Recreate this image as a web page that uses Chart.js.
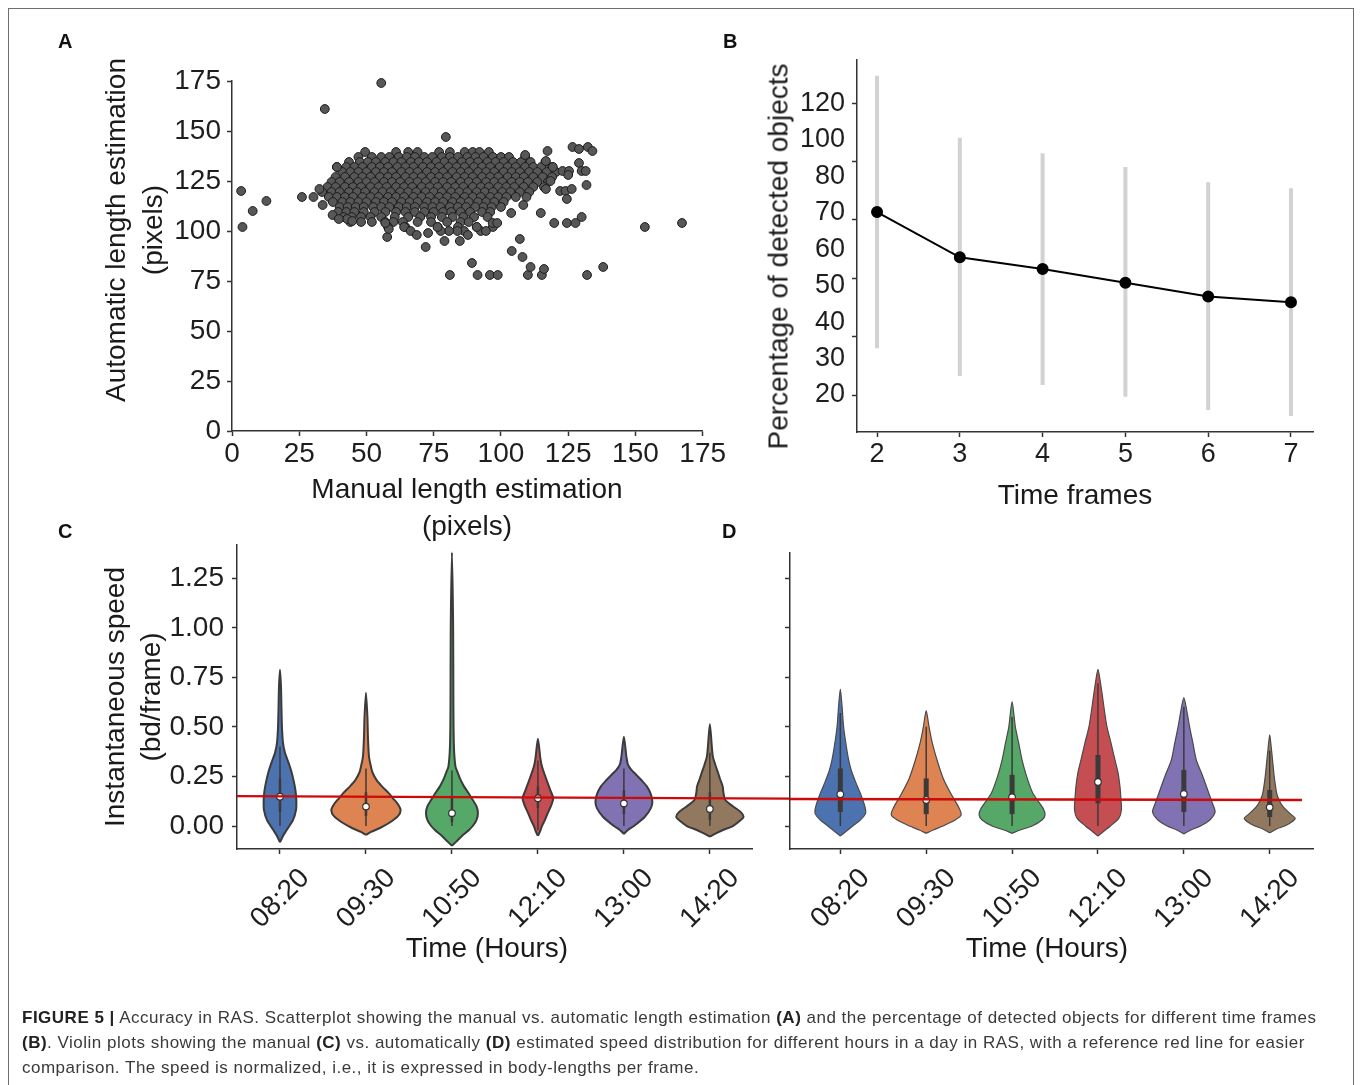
<!DOCTYPE html>
<html>
<head>
<meta charset="utf-8">
<script src="https://cdn.jsdelivr.net/npm/chart.js@4.4.1/dist/chart.umd.min.js"></script>
<style>
  html, body { margin:0; padding:0; background:#fff; }
  body { width:1360px; height:1085px; overflow:hidden; position:relative; font-family:'Liberation Sans', Arial, Helvetica, sans-serif; }
  canvas { position:absolute; left:0; top:0; }
  .frame { position:absolute; left:8px; top:8px; width:1346px; height:1120px; border:1px solid #6e6e6e; box-sizing:border-box; }
  .plab { position:absolute; font-weight:bold; font-size:20px; line-height:20px; color:#111; }
  .ttl { position:absolute; font-size:28px; line-height:37px; color:#1a1a1a; text-align:center; white-space:nowrap; }
  .rot { transform:rotate(-90deg); transform-origin:50% 50%; }
  .cap { position:absolute; font-size:17px; letter-spacing:0.5px; line-height:25px; color:#3a3a3a; white-space:nowrap; }
  .cap b { color:#222; }
</style>
</head>
<body>
<div class="frame"></div>
<canvas id="cA" width="1360" height="1085"></canvas>
<canvas id="cB" width="1360" height="1085"></canvas>
<canvas id="cC" width="1360" height="1085"></canvas>
<canvas id="cD" width="1360" height="1085"></canvas>

<div class="plab" style="left:58px;top:31px;">A</div>
<div class="plab" style="left:723px;top:31px;">B</div>
<div class="plab" style="left:58px;top:521px;">C</div>
<div class="plab" style="left:722px;top:521px;">D</div>

<div class="ttl rot" style="left:-76.5px;top:193px;width:420px;height:74px;">Automatic length estimation<br>(pixels)</div>
<div class="ttl" style="left:217px;top:469.5px;width:500px;">Manual length estimation<br>(pixels)</div>
<div class="ttl rot" style="left:558px;top:237.5px;width:440px;height:37px;">Percentage of detected objects</div>
<div class="ttl" style="left:925px;top:475.5px;width:300px;">Time frames</div>
<div class="ttl rot" style="left:-67px;top:661px;width:400px;height:72px;line-height:36px;">Instantaneous speed<br>(bd/frame)</div>
<div class="ttl" style="left:337px;top:928.5px;width:300px;">Time (Hours)</div>
<div class="ttl" style="left:897px;top:928.5px;width:300px;">Time (Hours)</div>

<div class="cap" style="left:22px;top:1004.5px;"><b>FIGURE 5 |</b> Accuracy in RAS. Scatterplot showing the manual vs. automatic length estimation <b>(A)</b> and the percentage of detected objects for different time frames<br><b>(B)</b>. Violin plots showing the manual <b>(C)</b> vs. automatically <b>(D)</b> estimated speed distribution for different hours in a day in RAS, with a reference red line for easier<br>comparison. The speed is normalized, i.e., it is expressed in body-lengths per frame.</div>

<script>
// ---------------- Panel A data: manual vs automatic length (pixels) ----------------
const lengthTicks = [0, 25, 50, 75, 100, 125, 150, 175];
// dense cluster read row by row (automatic value of row, manual values along it)
const clusterRowAuto = [139.5, 137, 134.5, 132, 129.5, 127, 124.5, 122, 119.5, 117, 114.5, 112, 109.5, 107, 104.5, 102];
const clusterRowManual = [
  [49.5, 61, 65.5, 69, 77, 81, 86.5, 89.5, 92, 95.5],
  [47, 52, 55.5, 58.5, 62, 65, 68, 71.5, 74.5, 78, 81, 84, 87.5, 90.5, 93.5, 97, 100, 103, 109],
  [43.5, 47.5, 50.5, 53.5, 57, 60, 63, 66.5, 69.5, 72.5, 76, 79, 82, 85.5, 88.5, 91.5, 95, 98, 101, 104.5, 107.5, 111, 116.5],
  [39, 42.5, 45.5, 48.5, 52, 55, 58, 61.5, 64.5, 67.5, 71, 74, 77, 80.5, 83.5, 86.5, 90, 93, 96, 99.5, 102.5, 105.5, 109, 112, 115, 119],
  [41, 44, 47, 50, 53.5, 56.5, 59.5, 63, 66, 69, 72.5, 75.5, 78.5, 82, 85, 88, 91.5, 94.5, 97.5, 101, 104, 107, 110.5, 113.5, 117, 120.5],
  [38.5, 42, 45.5, 48.5, 51.5, 55, 58, 61, 64.5, 67.5, 70.5, 74, 77, 80, 83.5, 86.5, 89.5, 93, 96, 99, 102.5, 105.5, 108.5, 112, 115.5, 119],
  [37, 40, 43.5, 47, 50, 53, 56.5, 59.5, 62.5, 66, 69, 72, 75.5, 78.5, 81.5, 85, 88, 91, 94.5, 97.5, 100.5, 104, 107, 110, 113.5, 117.5],
  [35.5, 38.5, 42, 45, 48, 51.5, 54.5, 57.5, 61, 64, 67, 70.5, 73.5, 76.5, 80, 83, 86, 89.5, 92.5, 95.5, 99, 102, 105, 108.5, 112, 116],
  [33.5, 37, 40, 43.5, 46.5, 49.5, 53, 56, 59, 62.5, 65.5, 68.5, 72, 75, 78, 81.5, 84.5, 87.5, 91, 94, 97, 100.5, 103.5, 107, 110.5],
  [36, 39, 42, 45, 48.5, 51.5, 54.5, 58, 61, 64, 67.5, 70.5, 73.5, 77, 80, 83, 86.5, 89.5, 92.5, 96, 99, 102, 105.5, 109.5],
  [37.5, 41, 44, 47, 50, 53.5, 56.5, 59.5, 63, 66, 69, 72.5, 75.5, 78.5, 82, 85, 88, 91.5, 94.5, 97.5, 101],
  [40, 43, 46, 49, 52.5, 55.5, 58.5, 62, 65, 68, 71.5, 74.5, 77.5, 81, 84, 87, 90.5, 93.5, 96.5, 100],
  [39.5, 42.5, 45.5, 49, 53, 57, 61, 64.5, 68, 71.5, 75, 78.5, 81.5, 85, 88.5, 93, 96],
  [41.5, 44.5, 48, 51.5, 55.5, 60.5, 65.5, 70, 74, 78, 82, 86, 90, 95],
  [44, 48, 52, 57, 60, 63.5, 69, 74, 80, 85, 88],
  [58, 64.5, 76.5, 84, 91, 97]
];
const outlierManual = [55.5, 34.5, 79.5, 3.4, 3.9, 7.7, 12.8, 26, 30.3, 32.5, 33.7, 37.4, 153.5, 167.3, 138, 132, 81, 91.3, 95.9, 98.8, 110, 115.2, 111, 116, 89.2, 104, 108, 107, 72, 57.7, 79, 84.7, 126.6, 129, 132.3, 134, 117.3, 109, 129, 130, 131.5, 122.9, 125.3, 125, 131.8, 122, 124, 126.3, 124.5, 130, 119.8, 124.5, 127.7, 114.8, 108.3, 103.8, 116.7, 119.3, 116.7, 118.4, 86.3, 83.8, 80.7, 77.6, 92.5, 94.4, 91, 96.9, 98.6, 87.7, 64, 66.4, 68.7, 72.9, 76.4, 58.3, 57, 39, 42.8, 44.7, 39.7];
const outlierAuto   = [174, 161, 147, 120, 102, 110, 115, 117, 117, 121, 113, 108, 102, 104, 82, 78, 78, 78, 78, 78, 78, 78, 82, 81, 84, 90, 87, 96, 92, 97, 95, 95, 142, 141, 142, 140, 140, 138, 134, 130, 130, 130, 130, 128, 123, 120, 120, 121, 116, 107, 104, 104, 104, 109, 113, 109, 135, 132, 121, 125, 100, 100, 100, 100, 100, 100, 102, 104, 104, 98, 102, 100, 98, 99, 102, 101, 104, 132, 106, 105, 106];

// ---------------- Panel B data: percentage of detected objects ----------------
const frames = [2, 3, 4, 5, 6, 7];
const detectedMean = [82.7, 67.2, 63.2, 58.5, 53.8, 51.8];
const detectedHigh = [129.4, 108.2, 102.9, 98.2, 92.9, 90.9];
const detectedLow  = [36.0, 26.5, 23.4, 19.4, 14.9, 12.8];
const detectedTickMarks = [20, 40, 60, 80, 100, 120];
const detectedLabelPos = [20, 32.5, 45, 57.5, 70, 82.5, 95, 107.5, 120];
const detectedLabels = ['20', '30', '40', '50', '60', '70', '80', '100', '120'];

// ---------------- Panels C/D data: instantaneous speed violins ----------------
const hours = ['08:20', '09:30', '10:50', '12:10', '13:00', '14:20'];
const speedTicks = [0, 0.25, 0.5, 0.75, 1.0, 1.25];
const palette = ['#4c72b0', '#dd8452', '#55a868', '#c44e52', '#8172b3', '#937860'];

const manualLevels = [
  [-0.082, -0.05, -0.02, 0.03, 0.08, 0.13, 0.18, 0.22, 0.27, 0.32, 0.37, 0.42, 0.5, 0.6, 0.7, 0.788],
  [-0.045, -0.03, -0.01, 0.015, 0.05, 0.08, 0.11, 0.14, 0.167, 0.2, 0.23, 0.27, 0.3, 0.35, 0.45, 0.55, 0.673],
  [-0.1, -0.08, -0.05, -0.02, 0, 0.03, 0.065, 0.1, 0.13, 0.165, 0.2, 0.24, 0.27, 0.3, 0.4, 0.6, 1.0, 1.38],
  [-0.049, -0.03, 0, 0.03, 0.064, 0.1, 0.14, 0.18, 0.232, 0.27, 0.3, 0.34, 0.44],
  [-0.04, -0.02, 0, 0.047, 0.09, 0.123, 0.16, 0.2, 0.232, 0.26, 0.283, 0.31, 0.35, 0.451],
  [-0.054, -0.04, -0.02, 0, 0.03, 0.047, 0.07, 0.1, 0.131, 0.17, 0.2, 0.24, 0.266, 0.3, 0.35, 0.4, 0.515]
];
const manualDensity = [
  [0, .035, .078, .151, .186, .19, .18, .163, .136, .099, .058, .035, .023, .017, .012, 0],
  [0, .058, .163, .267, .372, .403, .372, .314, .262, .186, .126, .076, .058, .035, .023, .017, 0],
  [0, .047, .116, .198, .242, .285, .302, .285, .244, .194, .14, .093, .067, .041, .023, .017, .014, 0],
  [0, .023, .047, .081, .113, .151, .178, .145, .101, .07, .047, .029, 0],
  [0, .047, .116, .244, .314, .331, .314, .267, .203, .14, .087, .047, .029, 0],
  [0, .058, .151, .267, .36, .392, .36, .267, .18, .157, .149, .116, .097, .07, .035, .023, 0]
];
const manualMedian = [0.148, 0.098, 0.065, 0.14, 0.114, 0.086];
const manualBoxLow = [0.07, 0.05, 0.02, 0.09, 0.06, 0.03];
const manualBoxHigh = [0.24, 0.17, 0.15, 0.2, 0.18, 0.17];
const manualWhiskLow = [0, 0, 0, -0.02, 0, 0];
const manualWhiskHigh = [0.40, 0.29, 0.28, 0.33, 0.29, 0.37];
const manualRefX = [-0.5, 5.93];
const manualRefY = [0.151, 0.138];

const autoLevels = [
  [-0.05, -0.03, 0, 0.03, 0.064, 0.1, 0.165, 0.22, 0.28, 0.333, 0.4, 0.5, 0.6, 0.69],
  [-0.037, -0.02, 0, 0.03, 0.056, 0.09, 0.165, 0.24, 0.333, 0.42, 0.5, 0.582],
  [-0.037, -0.02, 0, 0.03, 0.056, 0.09, 0.165, 0.25, 0.333, 0.42, 0.5, 0.627],
  [-0.05, -0.03, 0, 0.04, 0.081, 0.14, 0.2, 0.27, 0.333, 0.42, 0.5, 0.58, 0.67, 0.74, 0.79],
  [-0.04, -0.02, 0, 0.03, 0.071, 0.11, 0.165, 0.25, 0.333, 0.42, 0.5, 0.58, 0.648],
  [-0.034, -0.015, 0, 0.02, 0.039, 0.06, 0.098, 0.13, 0.165, 0.25, 0.333, 0.4, 0.46]
];
const autoDensity = [
  [0, .058, .145, .233, .294, .285, .233, .18, .128, .097, .07, .038, .021, 0],
  [0, .081, .194, .337, .407, .384, .285, .198, .126, .07, .033, 0],
  [0, .093, .233, .349, .384, .36, .242, .169, .116, .076, .038, 0],
  [0, .058, .145, .244, .273, .267, .256, .233, .198, .151, .105, .076, .047, .023, 0],
  [0, .081, .194, .302, .364, .337, .291, .221, .145, .105, .067, .035, 0],
  [0, .081, .174, .256, .297, .244, .155, .11, .081, .052, .033, .017, 0]
];
const autoMedian = [0.16, 0.131, 0.145, 0.222, 0.162, 0.094];
const autoBoxLow = [0.071, 0.06, 0.06, 0.114, 0.071, 0.045];
const autoBoxHigh = [0.29, 0.24, 0.258, 0.358, 0.283, 0.182];
const autoWhiskLow = [0, 0, 0, 0, 0, 0];
const autoWhiskHigh = [0.57, 0.5, 0.55, 0.72, 0.6, 0.38];
const autoRefX = [-0.586, 5.376];
const autoRefY = [0.136, 0.131];

// ---------------- helpers ----------------
const FONT = "'Liberation Sans', Arial, Helvetica, sans-serif";
const W = 1360, H = 1085, WY = 90, HX = 100;

function axis(min, max, tickVals, labelFn, tickOpts, gridOpts) {
  return {
    type: 'linear', min: min, max: max,
    afterBuildTicks: s => { s.ticks = tickVals.map(v => ({ value: v })); },
    grid: Object.assign({ drawOnChartArea: false, drawTicks: true, tickLength: 5, tickWidth: 1.5, tickColor: '#333' }, gridOpts || {}),
    border: { display: true, color: '#333', width: 1.5 },
    ticks: Object.assign({ autoSkip: false, color: '#1e1e1e', font: { family: FONT, size: 28 }, callback: labelFn, maxRotation: 0, minRotation: 0, padding: 1 }, tickOpts || {})
  };
}

function makeChart(id, box, xAxis, yAxis, datasets) {
  xAxis.afterFit = s => { s.height = HX; };
  yAxis.afterFit = s => { s.width = WY; };
  return new Chart(document.getElementById(id), {
    type: 'scatter',
    data: { datasets: datasets },
    options: {
      responsive: false, animation: false, events: [],
      layout: { padding: { left: box.L - WY, top: box.T, right: W - box.R, bottom: H - box.B - HX } },
      plugins: { legend: { display: false }, tooltip: { enabled: false } },
      scales: { x: xAxis, y: yAxis }
    }
  });
}

function violinSets(levels, dens, med, bLo, bHi, wLo, wHi, refX, refY, outlineW, outlineC, boxW) {
  const ds = [];
  levels.forEach((lv, i) => {
    const left = lv.map((v, k) => ({ x: i - dens[i][k], y: v }));
    const right = [];
    for (let k = lv.length - 2; k >= 1; k--) right.push({ x: i + dens[i][k], y: lv[k] });
    const poly = left.concat(right, [left[0]]);
    ds.push({ data: poly, showLine: true, fill: 'shape', backgroundColor: palette[i], borderColor: outlineC,
      borderWidth: outlineW, pointRadius: 0, tension: 0.25, order: 5 });
    ds.push({ data: [{ x: i, y: wLo[i] }, { x: i, y: wHi[i] }], showLine: true, borderColor: '#3a3a3a',
      borderWidth: 1.5, pointRadius: 0, order: 4 });
    ds.push({ data: [{ x: i, y: bLo[i] }, { x: i, y: bHi[i] }], showLine: true, borderColor: '#3a3a3a',
      borderWidth: boxW, borderCapStyle: 'butt', pointRadius: 0, order: 3 });
  });
  ds.push({ data: med.map((m, i) => ({ x: i, y: m })), showLine: false, pointRadius: 3.3,
    pointBackgroundColor: '#ffffff', pointBorderColor: '#333', pointBorderWidth: 1.2, order: 2 });
  ds.push({ data: refX.map((x, i) => ({ x: x, y: refY[i] })), showLine: true, borderColor: '#cc0a0a',
    borderWidth: 2.4, pointRadius: 0, clip: false, order: 0 });
  return ds;
}

// ---------------- Panel A ----------------
const scatterPts = [];
clusterRowAuto.forEach((y, r) => clusterRowManual[r].forEach(x => scatterPts.push({ x: x, y: y })));
outlierManual.forEach((x, i) => scatterPts.push({ x: x, y: outlierAuto[i] }));

makeChart('cA', { L: 232, T: 81, R: 702.7, B: 431 },
  axis(0, 175, lengthTicks, v => String(v)),
  axis(0, 175, lengthTicks, v => String(v), { padding: 6 }),
  [{ data: scatterPts, clip: false, pointRadius: 4.4, pointBackgroundColor: '#575757', pointBorderColor: '#1c1c1c', pointBorderWidth: 1 }]
);

// ---------------- Panel B ----------------
const bYTicks = detectedLabelPos.concat(detectedTickMarks.filter(v => detectedLabelPos.indexOf(v) < 0)).sort((a, b) => a - b);
const bDatasets = [];
frames.forEach((f, i) => {
  bDatasets.push({ data: [{ x: f, y: detectedLow[i] }, { x: f, y: detectedHigh[i] }], showLine: true,
    borderColor: '#d2d2d2', borderWidth: 4, borderCapStyle: 'butt', pointRadius: 0, order: 2 });
});
bDatasets.push({ data: frames.map((f, i) => ({ x: f, y: detectedMean[i] })), showLine: true, borderColor: '#000',
  borderWidth: 2, pointRadius: 5, pointBackgroundColor: '#000', pointBorderColor: '#000', order: 0 });

makeChart('cB', { L: 857, T: 60, R: 1313, B: 432 },
  axis(1.758, 7.266, frames, v => String(v), { font: { family: FONT, size: 27 } }),
  axis(7.32, 134.84, bYTicks, v => { const k = detectedLabelPos.indexOf(v); return k >= 0 ? detectedLabels[k] : ''; },
    { padding: 7, font: { family: FONT, size: 27 } },
    { tickColor: ctx => (ctx.tick && detectedTickMarks.indexOf(ctx.tick.value) >= 0) ? '#333' : 'rgba(0,0,0,0)' }),
  bDatasets
);

// ---------------- Panel C ----------------
const rotTicks = { maxRotation: 45, minRotation: 45, padding: 8, labelOffset: 25 };
makeChart('cC', { L: 237, T: 545, R: 752, B: 849 },
  axis(-0.5, 5.49, [0, 1, 2, 3, 4, 5], (v, i) => hours[i], rotTicks),
  axis(-0.116, 1.418, speedTicks, v => v.toFixed(2), { padding: 8 }),
  violinSets(manualLevels, manualDensity, manualMedian, manualBoxLow, manualBoxHigh, manualWhiskLow, manualWhiskHigh,
    manualRefX, manualRefY, 2, '#3b3b3b', 2.5)
);

// ---------------- Panel D ----------------
makeChart('cD', { L: 790, T: 553, R: 1313, B: 849 },
  axis(-0.586, 5.504, [0, 1, 2, 3, 4, 5], (v, i) => hours[i], rotTicks),
  axis(-0.116, 1.377, speedTicks, v => '', { padding: 8 }),
  violinSets(autoLevels, autoDensity, autoMedian, autoBoxLow, autoBoxHigh, autoWhiskLow, autoWhiskHigh,
    autoRefX, autoRefY, 1.2, '#4a4a4a', 5)
);
</script>
</body>
</html>
